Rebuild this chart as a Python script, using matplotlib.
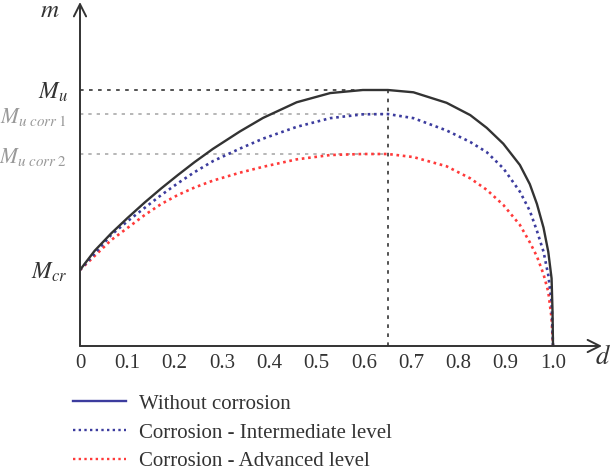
import matplotlib
matplotlib.use('Agg')
import matplotlib.pyplot as plt
from matplotlib.lines import Line2D

plt.rcParams['font.family'] = ['Liberation Serif', 'DejaVu Serif']
plt.rcParams['mathtext.fontset'] = 'stix'

# values (m normalised so that Mu = 1)
m_cr = 0.297
m_u = 1.0
m_corr1 = 0.906
m_corr2 = 0.75
d_peak = 0.651

d_plain = [0.0, 0.031, 0.066, 0.101, 0.137, 0.172, 0.207, 0.242, 0.281, 0.338, 0.387, 0.458,
           0.529, 0.598, 0.651, 0.705, 0.775, 0.825, 0.860, 0.895, 0.930, 0.951, 0.966,
           0.980, 0.990, 0.997, 0.999, 1.0]
m_plain = [0.297, 0.372, 0.440, 0.501, 0.561, 0.616, 0.668, 0.718, 0.770, 0.838, 0.891, 0.952,
           0.988, 1.0, 1.0, 0.991, 0.950, 0.902, 0.852, 0.790, 0.707, 0.632, 0.555,
           0.462, 0.368, 0.264, 0.134, 0.0]

d_inter = [0.0, 0.066, 0.101, 0.137, 0.172, 0.207, 0.242, 0.281, 0.338, 0.387, 0.458, 0.529,
           0.598, 0.651, 0.705, 0.775, 0.825, 0.860, 0.895, 0.930, 0.951, 0.966, 0.980,
           0.990, 0.997, 1.0]
m_inter = [0.297, 0.434, 0.488, 0.540, 0.590, 0.636, 0.679, 0.722, 0.771, 0.810, 0.856, 0.890,
           0.905, 0.906, 0.890, 0.842, 0.797, 0.757, 0.694, 0.603, 0.528, 0.450, 0.368,
           0.277, 0.173, 0.0]

d_adv = [0.0, 0.066, 0.101, 0.137, 0.172, 0.207, 0.242, 0.281, 0.338, 0.387, 0.458, 0.529,
         0.598, 0.651, 0.705, 0.775, 0.825, 0.860, 0.895, 0.930, 0.951, 0.966, 0.980,
         0.990, 0.997, 1.0]
m_adv = [0.297, 0.414, 0.462, 0.512, 0.555, 0.590, 0.619, 0.646, 0.677, 0.700, 0.729, 0.746,
         0.75, 0.75, 0.738, 0.702, 0.655, 0.610, 0.551, 0.473, 0.405, 0.350, 0.280,
         0.212, 0.108, 0.0]

xticks = [0, 0.1, 0.2, 0.3, 0.4, 0.5, 0.6, 0.7, 0.8, 0.9, 1.0]
xlabels = ['0', '0.1', '0.2', '0.3', '0.4', '0.5', '0.6', '0.7', '0.8', '0.9', '1.0']

legend_labels = ['Without corrosion', 'Corrosion - Intermediate level', 'Corrosion - Advanced level']

c_black = '#333333'
c_blue = '#3c3c9e'
c_red = '#ff3a3a'
dots = (0, (1, 1.4))

fig = plt.figure(figsize=(6.12, 4.70), dpi=100)
ax = fig.add_axes([80 / 612, 124 / 470, 522 / 612, 344 / 470])
ax.set_xlim(0, 522 / 473)
ax.set_ylim(0, 344 / 256)
for s in ax.spines.values():
    s.set_visible(False)

# reference lines
ax.plot([0, d_peak], [m_u, m_u], color='#444444', lw=1.3, ls=(0, (2, 3)))
ax.plot([0, d_peak], [m_corr1, m_corr1], color='#aaaaaa', lw=1.2, ls=(0, (2, 3)))
ax.plot([0, d_peak], [m_corr2, m_corr2], color='#aaaaaa', lw=1.2, ls=(0, (2, 3)))
ax.plot([d_peak, d_peak], [0, m_u], color='#444444', lw=1.3, ls=(0, (2, 3)))

ax.plot(d_adv, m_adv, color=c_red, lw=1.9, ls=dots)
ax.plot(d_inter, m_inter, color=c_blue, lw=1.9, ls=dots)
ax.plot(d_plain, m_plain, color=c_black, lw=1.7)

# axes arrows
arrow = dict(arrowstyle='->', color=c_black, lw=1.4, mutation_scale=22, shrinkA=0, shrinkB=0)
ax.annotate('', xy=(522 / 473, 0), xytext=(0, 0), arrowprops=arrow, annotation_clip=False)
ax.annotate('', xy=(0, 344 / 256), xytext=(0, 0), arrowprops=arrow, annotation_clip=False)

ax.set_xticks(xticks)
ax.set_xticklabels(xlabels, fontsize=15, color=c_black)
ax.tick_params(axis='x', length=0, pad=6)

ax.set_yticks([m_cr, m_corr2, m_corr1, m_u])
ylabels = ax.set_yticklabels([r'$M_{cr}$', r'$M_{u\ corr\ 2}$', r'$M_{u\ corr\ 1}$', r'$M_u$'])
for lab, col, fs in zip(ylabels, [c_black, '#999999', '#999999', c_black], [17, 15.5, 15.5, 17]):
    lab.set_color(col)
    lab.set_fontsize(fs)
ax.tick_params(axis='y', length=0, pad=9)

fig.text(50 / 612, 1 - 11 / 470, r'$m$', fontsize=18, color=c_black, ha='center', va='center')
fig.text(611 / 612, 1 - 357 / 470, r'$d$', fontsize=19, color=c_black, ha='right', va='center')

handles = [Line2D([], [], color=c_blue, lw=1.7),
           Line2D([], [], color=c_blue, lw=1.7, ls=dots),
           Line2D([], [], color=c_red, lw=1.7, ls=dots)]
fig.legend(handles, legend_labels, loc='upper left', bbox_to_anchor=(73 / 612, 1 - 394 / 470),
           frameon=False, borderpad=0, borderaxespad=0, handlelength=2.55, handletextpad=0.62,
           labelspacing=0.45, prop={'size': 15}, labelcolor=c_black)

fig.savefig('out.png', dpi=100)
